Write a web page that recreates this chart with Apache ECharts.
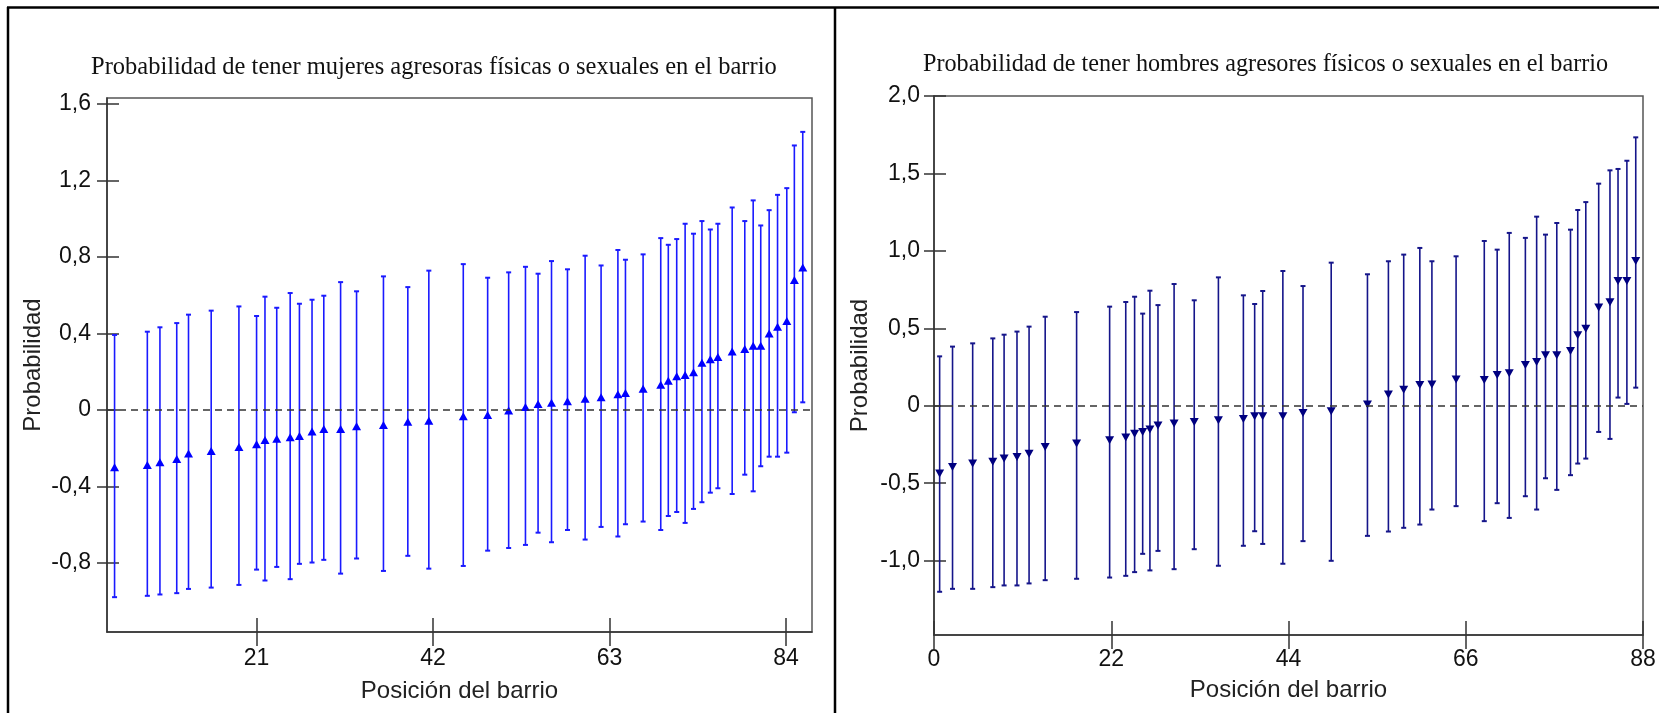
<!DOCTYPE html>
<html>
<head>
<meta charset="utf-8">
<script src="https://cdn.jsdelivr.net/npm/echarts@6/dist/echarts.min.js"></script>
<style>
  html, body { margin: 0; padding: 0; background: #fff; }
  #chart { width: 1659px; height: 713px; }
</style>
</head>
<body>
<div id="chart"></div>
<script>
// mujeres agresoras (izquierda)
const mujPos = [4.1, 8.0, 9.5, 11.5, 12.9, 15.6, 18.9, 21.0, 22.0, 23.4, 25.0, 26.1, 27.6, 29.0, 31.0, 32.9, 36.1, 39.0,
  41.5, 45.6, 48.5, 51.0, 53.0, 54.5, 56.1, 58.0, 60.1, 62.0, 64.0, 64.9, 67.0, 69.1, 70.0, 71.0, 72.0, 73.0, 74.0, 75.0,
  75.9, 77.6, 79.1, 80.1, 81.0, 82.0, 83.0, 84.1, 85.0, 86.0]
const mujEst = [-0.299, -0.287, -0.273, -0.256, -0.228, -0.214, -0.193, -0.179, -0.157, -0.150, -0.143, -0.136, -0.113, -0.099, -0.099, -0.085, -0.078, -0.061,
  -0.056, -0.033, -0.026, -0.003, 0.016, 0.031, 0.038, 0.045, 0.059, 0.066, 0.082, 0.089, 0.111, 0.132, 0.153, 0.176, 0.183, 0.197, 0.247, 0.265,
  0.277, 0.306, 0.319, 0.336, 0.336, 0.400, 0.435, 0.465, 0.679, 0.745]
const mujLow = [-0.978, -0.971, -0.964, -0.957, -0.935, -0.928, -0.914, -0.834, -0.891, -0.820, -0.884, -0.804, -0.797, -0.783, -0.855, -0.776, -0.841, -0.762,
  -0.829, -0.815, -0.735, -0.721, -0.705, -0.641, -0.691, -0.627, -0.677, -0.611, -0.661, -0.597, -0.583, -0.627, -0.554, -0.533, -0.590, -0.517, -0.482, -0.432,
  -0.409, -0.439, -0.338, -0.425, -0.294, -0.244, -0.244, -0.223, -0.012, 0.040]
const mujHigh = [0.392, 0.409, 0.432, 0.454, 0.498, 0.519, 0.541, 0.491, 0.592, 0.534, 0.611, 0.555, 0.576, 0.597, 0.668, 0.620, 0.698, 0.642,
  0.728, 0.762, 0.691, 0.719, 0.748, 0.712, 0.778, 0.735, 0.806, 0.755, 0.836, 0.785, 0.813, 0.898, 0.863, 0.893, 0.973, 0.921, 0.987, 0.943,
  0.973, 1.058, 0.987, 1.095, 0.964, 1.044, 1.124, 1.159, 1.382, 1.453]

// hombres agresores (derecha)
const homPos = [0.7, 2.3, 4.8, 7.3, 8.7, 10.3, 11.8, 13.8, 17.7, 21.8, 23.8, 24.9, 25.9, 26.8, 27.8, 29.8, 32.3, 35.3, 38.4,
  39.8, 40.8, 43.3, 45.8, 49.3, 53.8, 56.4, 58.3, 60.3, 61.8, 64.8, 68.3, 69.9, 71.4, 73.4, 74.8, 75.9, 77.3, 79.0, 79.9,
  80.9, 82.5, 83.9, 84.9, 86.0, 87.1]
const homEst = [-0.438, -0.395, -0.373, -0.362, -0.341, -0.330, -0.309, -0.266, -0.244, -0.223, -0.205, -0.180, -0.169, -0.154, -0.128, -0.115, -0.104, -0.094, -0.085,
  -0.068, -0.068, -0.068, -0.046, -0.035, 0.008, 0.072, 0.104, 0.134, 0.137, 0.169, 0.167, 0.199, 0.210, 0.263, 0.283, 0.326, 0.326, 0.354, 0.455,
  0.498, 0.635, 0.668, 0.805, 0.805, 0.935]
const homLow = [-1.201, -1.182, -1.182, -1.171, -1.160, -1.160, -1.147, -1.126, -1.117, -1.109, -1.098, -1.074, -0.956, -1.063, -0.937, -1.055, -0.926, -1.033, -0.904,
  -0.810, -0.892, -1.020, -0.874, -1.001, -0.840, -0.812, -0.788, -0.767, -0.670, -0.648, -0.745, -0.629, -0.724, -0.584, -0.670, -0.468, -0.543, -0.448, -0.373,
  -0.341, -0.169, -0.214, 0.053, 0.012, 0.117]
const homHigh = [0.319, 0.382, 0.403, 0.435, 0.459, 0.479, 0.511, 0.575, 0.605, 0.640, 0.670, 0.704, 0.595, 0.743, 0.650, 0.786, 0.681, 0.829, 0.713,
  0.657, 0.741, 0.870, 0.773, 0.924, 0.849, 0.933, 0.976, 1.019, 0.933, 0.965, 1.064, 1.008, 1.116, 1.084, 1.221, 1.105, 1.180, 1.137, 1.264,
  1.315, 1.434, 1.520, 1.529, 1.582, 1.733]

const mujXTicks = [21, 42, 63, 84]
const mujYTicks = [-0.8, -0.4, 0, 0.4, 0.8, 1.2, 1.6]
const homXTicks = [0, 22, 44, 66, 88]
const homYTicks = [-1, -0.5, 0, 0.5, 1, 1.5, 2]

const sans = 'Liberation Sans'
const axisColor = '#333'
const fmtDec = v => v === 0 ? '0' : v.toFixed(1).replace('.', ',')

function errorBars(color) {
  return function (params, api) {
    const x = api.value(0)
    const lo = api.coord([x, api.value(1)])
    const hi = api.coord([x, api.value(2)])
    const w = 2.5
    const style = { stroke: color, lineWidth: 1.6 }
    const cap = { stroke: color, lineWidth: 2 }
    return {
      type: 'group',
      children: [
        { type: 'line', shape: { x1: lo[0], y1: lo[1], x2: hi[0], y2: hi[1] }, style },
        { type: 'line', shape: { x1: hi[0] - w, y1: hi[1], x2: hi[0] + w, y2: hi[1] }, style: cap },
        { type: 'line', shape: { x1: lo[0] - w, y1: lo[1], x2: lo[0] + w, y2: lo[1] }, style: cap }
      ]
    }
  }
}

// main axis (outer ticks, labels) + twin axis (inner ticks)
function xAxes(grid, min, max, ticks, nameGap, margin) {
  return [{
    gridIndex: grid, type: 'value', min, max, position: 'bottom',
    axisLine: { onZero: false, lineStyle: { color: axisColor, width: 1.5 } },
    axisTick: { customValues: ticks, length: 14, lineStyle: { color: axisColor, width: 1.5 } },
    axisLabel: { customValues: ticks, margin, color: '#111', fontFamily: sans, fontSize: 23 },
    splitLine: { show: false },
    name: 'Posición del barrio', nameLocation: 'middle', nameGap,
    nameTextStyle: { color: '#222', fontFamily: sans, fontSize: 24 }
  }, {
    gridIndex: grid, type: 'value', min, max, position: 'bottom',
    axisLine: { show: false, onZero: false },
    axisTick: { show: true, inside: true, customValues: ticks, length: 14, lineStyle: { color: axisColor, width: 1.5 } },
    axisLabel: { show: false }, splitLine: { show: false }
  }]
}

function yAxes(grid, min, max, ticks, margin) {
  return [{
    gridIndex: grid, type: 'value', min, max, position: 'left',
    axisLine: { show: true, onZero: false, lineStyle: { color: axisColor, width: 1.5 } },
    axisTick: { show: true, customValues: ticks, length: 10, lineStyle: { color: axisColor, width: 1.5 } },
    axisLabel: { customValues: ticks, margin, formatter: fmtDec, color: '#111', fontFamily: sans, fontSize: 23 },
    splitLine: { show: false },
    name: 'Probabilidad', nameLocation: 'middle', nameGap: 62,
    nameTextStyle: { color: '#222', fontFamily: sans, fontSize: 24 }
  }, {
    gridIndex: grid, type: 'value', min, max, position: 'left',
    axisLine: { show: false, onZero: false },
    axisTick: { show: true, inside: true, customValues: ticks, length: 12, lineStyle: { color: axisColor, width: 1.5 } },
    axisLabel: { show: false }, splitLine: { show: false }
  }]
}

const zeroLine = {
  silent: true, symbol: ['none', 'none'], label: { show: false },
  lineStyle: { color: '#333', width: 1.5, type: [7, 5] },
  data: [{ yAxis: 0 }]
}

const titleStyle = { fontFamily: 'Liberation Serif', fontWeight: 'normal', fontSize: 24.5, color: '#111' }

const chart = echarts.init(document.getElementById('chart'))
chart.setOption({
  animation: false,
  backgroundColor: '#fff',
  title: [
    { text: 'Probabilidad de tener mujeres agresoras físicas o sexuales en el barrio', left: 91, top: 55, padding: 0, textStyle: titleStyle },
    { text: 'Probabilidad de tener hombres agresores físicos o sexuales en el barrio', left: 923, top: 53, padding: 0,
      textStyle: Object.assign({}, titleStyle, { fontSize: 24.2 }) }
  ],
  grid: [
    { left: 107, top: 98, width: 705, height: 534, show: true, borderColor: '#555', borderWidth: 1.5 },
    { left: 934, top: 96, width: 709, height: 539, show: true, borderColor: '#555', borderWidth: 1.5 }
  ],
  xAxis: [
    ...xAxes(0, 3.2, 87.1, mujXTicks, 47, 15),
    ...xAxes(1, 0, 88, homXTicks, 43, 13)
  ],
  yAxis: [
    ...yAxes(0, -1.16, 1.63, mujYTicks, 16),
    ...yAxes(1, -1.48, 2.0, homYTicks, 14)
  ],
  graphic: [
    { type: 'line', shape: { x1: 8, y1: 7, x2: 8, y2: 713 }, style: { stroke: '#000', lineWidth: 2.5 } },
    { type: 'line', shape: { x1: 835, y1: 7, x2: 835, y2: 713 }, style: { stroke: '#000', lineWidth: 2.5 } },
    { type: 'line', shape: { x1: 7, y1: 7.5, x2: 1659, y2: 7.5 }, style: { stroke: '#000', lineWidth: 2.5 } }
  ],
  series: [
    {
      type: 'custom', xAxisIndex: 0, yAxisIndex: 0,
      renderItem: errorBars('#1a1aff'),
      encode: { x: 0, y: [1, 2] },
      data: mujPos.map((p, i) => [p, mujLow[i], mujHigh[i]]),
      markLine: zeroLine
    },
    {
      type: 'scatter', xAxisIndex: 0, yAxisIndex: 0,
      symbol: 'triangle', symbolSize: [9, 8],
      itemStyle: { color: '#0000ff', opacity: 1 },
      data: mujPos.map((p, i) => [p, mujEst[i]])
    },
    {
      type: 'custom', xAxisIndex: 2, yAxisIndex: 2,
      renderItem: errorBars('#15158a'),
      encode: { x: 0, y: [1, 2] },
      data: homPos.map((p, i) => [p, homLow[i], homHigh[i]]),
      markLine: zeroLine
    },
    {
      type: 'scatter', xAxisIndex: 2, yAxisIndex: 2,
      symbol: 'triangle', symbolRotate: 180, symbolSize: [9, 8],
      itemStyle: { color: '#000080', opacity: 1 },
      data: homPos.map((p, i) => [p, homEst[i]])
    }
  ]
})
</script>
</body>
</html>
